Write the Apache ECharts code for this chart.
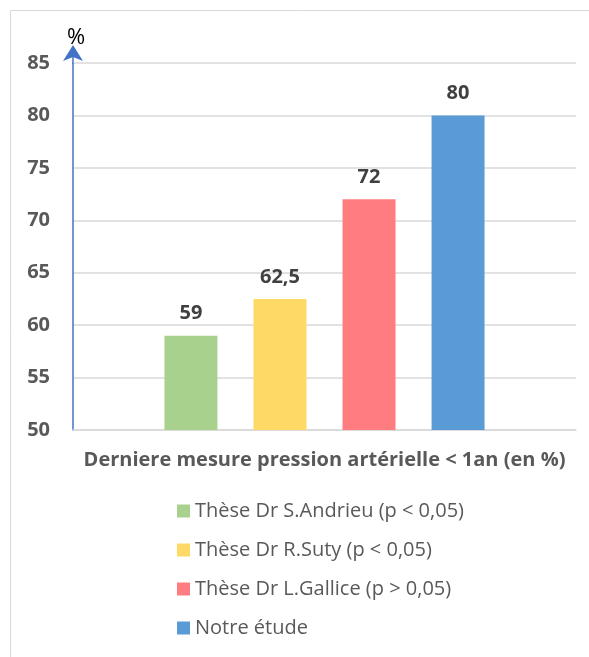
<!DOCTYPE html>
<html>
<head>
<meta charset="utf-8">
<script src="https://cdn.jsdelivr.net/npm/echarts@6/dist/echarts.min.js"></script>
<style>
  html, body { margin: 0; padding: 0; background: #fff; }
  #chart { width: 589px; height: 657px; }
</style>
</head>
<body>
<div id="chart"></div>
<script>
  var categories = ['Derniere mesure pression artérielle < 1an (en %)']
  var seriesNames = [
    'Thèse Dr S.Andrieu (p < 0,05)',
    'Thèse Dr R.Suty (p < 0,05)',
    'Thèse Dr L.Gallice (p > 0,05)',
    'Notre étude'
  ]
  var seriesValues = [59, 62.5, 72, 80]
  var seriesColors = ['#a9d18e', '#ffd966', '#ff7c80', '#5b9bd5']

  var font = '"Open Sans", sans-serif'

  var chart = echarts.init(document.getElementById('chart'))
  var series = seriesNames.map(function (name, i) {
    return {
      name: name,
      type: 'bar',
      data: [seriesValues[i]],
      barWidth: 53,
      barGap: '68%',
      itemStyle: { color: seriesColors[i] },
      label: {
        show: true,
        position: 'top',
        distance: 12,
        fontFamily: font,
        fontWeight: 'bold',
        fontSize: 20,
        color: '#404040',
        formatter: function (p) { return String(p.value).replace('.', ',') }
      }
    }
  })

  chart.setOption({
    animation: false,
    graphic: [{
      type: 'rect',
      shape: { x: 10.5, y: 10.5, width: 600, height: 700 },
      style: { fill: 'none', stroke: '#d9d9d9', lineWidth: 1 }
    }, {
      // prolonge l'axe jusqu'a la fleche
      type: 'line',
      shape: { x1: 73, y1: 64, x2: 73, y2: 55 },
      style: { stroke: '#4472c4', lineWidth: 1.5 }
    }],
    legend: {
      orient: 'vertical',
      left: 172,
      top: 496,
      height: 160,
      icon: 'rect',
      itemWidth: 13,
      itemHeight: 13,
      itemGap: 19,
      data: seriesNames,
      textStyle: { fontFamily: font, fontSize: 20, color: '#595959' }
    },
    grid: {
      left: 73,
      right: 13,
      top: 63,
      bottom: 227
    },
    xAxis: {
      type: 'category',
      data: categories,
      axisTick: { show: false },
      axisLine: { lineStyle: { color: '#d9d9d9', width: 1.5 } },
      axisLabel: {
        margin: 20,
        fontFamily: font,
        fontWeight: 'bold',
        fontSize: 20,
        color: '#595959'
      }
    },
    yAxis: {
      type: 'value',
      min: 50,
      max: 85,
      interval: 5,
      name: '%',
      nameGap: 14,
      nameTextStyle: { fontFamily: font, fontSize: 22, color: '#000', align: 'center', padding: [0, 0, 0, 6] },
      axisTick: { show: false },
      axisLine: {
        show: true,
        symbol: ['none', 'arrow'],
        symbolSize: [15, 16],
        symbolOffset: [0, 18],
        lineStyle: { color: '#4472c4', width: 1.5 }
      },
      axisLabel: {
        margin: 23,
        fontFamily: font,
        fontWeight: 'bold',
        fontSize: 20,
        color: '#595959'
      },
      splitLine: { lineStyle: { color: '#d9d9d9', width: 1.5 } }
    },
    series: series
  })
</script>
</body>
</html>
